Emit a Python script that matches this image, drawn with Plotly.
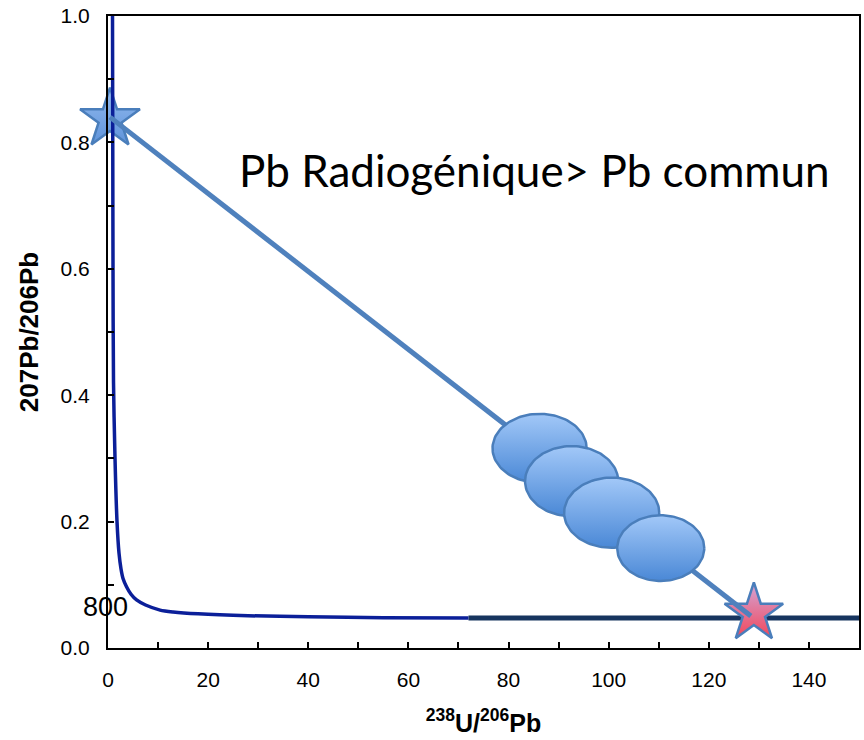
import numpy as np
import plotly.graph_objects as go

# Concordia curve
conc_x = [0.9, 0.95, 1.0, 1.1, 1.4, 1.8, 2.2, 2.6, 3.0, 3.7, 4.6, 5.7, 7.5, 10.4, 13, 18, 28, 40, 55, 72]
conc_y = [1.0, 0.80, 0.60, 0.42, 0.30, 0.20, 0.15, 0.125, 0.11, 0.097, 0.085, 0.076, 0.068, 0.060, 0.057, 0.054, 0.051, 0.0495, 0.048, 0.0475]

# Horizontal young-age segment
hline_x = [72, 150]
hline_y = [0.0475, 0.0475]

# End-members (stars)
common_x, common_y = 0.4, 0.837
radio_x, radio_y = 129, 0.055

# Mixing line end points
mix_x = [0.4, 128.4]
mix_y = [0.840, 0.0506]

# Ellipses (center, full width, full height)
ell_cx = [86.2, 92.6, 100.6, 110.4]
ell_cy = [0.316, 0.264, 0.214, 0.158]
ell_w = [18.8, 18.6, 19.0, 17.4]
ell_h = [0.109, 0.111, 0.111, 0.104]

x_ticks = [0, 20, 40, 60, 80, 100, 120, 140]
y_ticks = [0.0, 0.2, 0.4, 0.6, 0.8, 1.0]

fig = go.Figure()

fig.add_trace(go.Scatter(x=hline_x, y=hline_y, mode="lines", cliponaxis=False,
                         line=dict(color="#17355f", width=5), hoverinfo="skip"))

fig.add_trace(go.Scatter(x=[common_x], y=[common_y], mode="markers", cliponaxis=False,
                         marker=dict(symbol="star", size=45, color="#93bbef",
                                     gradient=dict(type="vertical", color="#5f93da"),
                                     line=dict(color="#4a7ebb", width=2.5)),
                         hoverinfo="skip"))
fig.add_trace(go.Scatter(x=[radio_x], y=[radio_y], mode="markers", cliponaxis=False,
                         marker=dict(symbol="star", size=44, color="#d2a6d8",
                                     gradient=dict(type="vertical", color="#f2475a"),
                                     line=dict(color="#4a7ebb", width=2.5)),
                         hoverinfo="skip"))

fig.add_trace(go.Scatter(x=conc_x, y=conc_y, mode="lines", line_shape="spline",
                         line=dict(color="#0b1f99", width=3.5, smoothing=0.8),
                         hoverinfo="skip"))

fig.add_trace(go.Scatter(x=mix_x, y=mix_y, mode="lines", cliponaxis=False,
                         line=dict(color="#4f81bd", width=5), hoverinfo="skip"))

t = np.linspace(0, 2 * np.pi, 121)
for cx, cy, w, h in zip(ell_cx, ell_cy, ell_w, ell_h):
    fig.add_trace(go.Scatter(
        x=cx + w / 2 * np.cos(t), y=cy + h / 2 * np.sin(t),
        mode="lines", fill="toself",
        fillgradient=dict(type="vertical",
                          colorscale=[[0, "#4a88d6"], [1, "#a2c8f8"]]),
        line=dict(color="#4a7ebb", width=2.5), hoverinfo="skip"))

fig.add_annotation(x=25.8, y=0.757, xref="x", yref="y", xanchor="left", yanchor="middle",
                   text="Pb Radiogénique> Pb commun", showarrow=False,
                   font=dict(family="Lato", size=44, color="black"))
fig.add_annotation(x=0, y=0.065, xref="x", yref="y", xanchor="center", yanchor="middle",
                   xshift=-3, text="800", showarrow=False,
                   font=dict(family="Liberation Sans, Arial", size=27, color="black"))

fig.update_layout(
    width=864, height=740,
    margin=dict(l=108, r=5, t=16, b=92, autoexpand=False),
    paper_bgcolor="white", plot_bgcolor="white",
    showlegend=False,
    font=dict(family="Liberation Sans, Arial", color="black"),
)
fig.update_xaxes(
    range=[0, 150], tickvals=x_ticks, ticktext=[str(v) for v in x_ticks],
    ticks="inside", ticklen=6, tickwidth=1.5, tickcolor="black",
    minor=dict(dtick=10, ticks="inside", ticklen=6, tickwidth=1.5, tickcolor="black"),
    showline=True, linecolor="black", linewidth=2, mirror=True,
    showgrid=False, zeroline=False, ticklabelstandoff=12, automargin=False,
    tickfont=dict(size=21, family="Liberation Sans, Arial"),
    title=dict(text="<b><sup>238</sup>U/<sup>206</sup>Pb</b>",
               font=dict(size=25, family="Liberation Sans, Arial"), standoff=24),
)
fig.update_yaxes(
    range=[0, 1.0], tickvals=y_ticks, ticktext=[f"{v:.1f}" for v in y_ticks],
    ticks="inside", ticklen=6, tickwidth=1.5, tickcolor="black",
    minor=dict(dtick=0.1, ticks="inside", ticklen=6, tickwidth=1.5, tickcolor="black"),
    showline=True, linecolor="black", linewidth=2, mirror=True,
    showgrid=False, zeroline=False, ticklabelstandoff=12, automargin=False,
    tickfont=dict(size=21, family="Liberation Sans, Arial"),
    title=dict(text="<b>207Pb/206Pb</b>",
               font=dict(size=26, family="Liberation Sans, Arial"), standoff=14),
)

fig.write_html("out.html")
